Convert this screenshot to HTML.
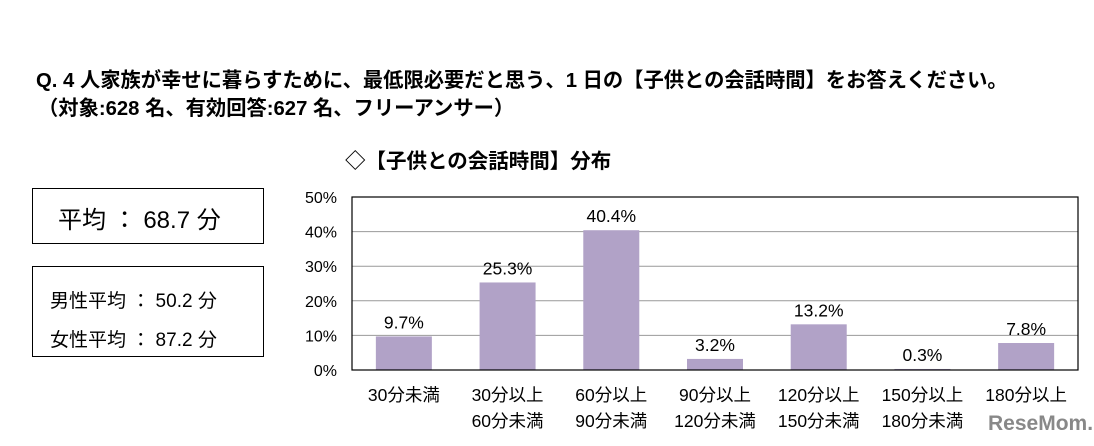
<!DOCTYPE html>
<html><head><meta charset="utf-8"><style>
body{margin:0;width:1094px;height:446px;background:#fff;font-family:"Liberation Sans","Noto Sans CJK JP",sans-serif;overflow:hidden;position:relative;color:#000}
.t{position:absolute;white-space:nowrap}
.box{position:absolute;border:1.5px solid #000;box-sizing:border-box}
</style></head><body>
<div class="t" style="left:36px;top:63px;font-size:20.3px;font-weight:bold">Q. 4 人家族が幸せに暮らすために、最低限必要だと思う、1 日の【子供との会話時間】をお答えください。</div>
<div class="t" style="left:38px;top:91px;font-size:20.3px;font-weight:bold">（対象:628 名、有効回答:627 名、フリーアンサー）</div>
<div class="t" style="left:345px;top:144px;font-size:20.5px;font-weight:bold">◇【子供との会話時間】分布</div>
<div class="box" style="left:32px;top:188px;width:232px;height:56px"></div>
<div class="t" style="left:58px;top:200px;font-size:24px">平均 ： 68.7 分</div>
<div class="box" style="left:32px;top:266px;width:232px;height:91px"></div>
<div class="t" style="left:50px;top:286px;font-size:19px">男性平均 ： 50.2 分</div>
<div class="t" style="left:50px;top:325px;font-size:19px">女性平均 ： 87.2 分</div>
<svg id="chart" width="1094" height="446" style="position:absolute;left:0;top:0"></svg>
<div class="t" style="left:988px;top:412px;font-size:21px;font-weight:bold;color:#888">ReseMom.</div>
<script>
const categories1=["30分未満","30分以上","60分以上","90分以上","120分以上","150分以上","180分以上"];
const categories2=["","60分未満","90分未満","120分未満","150分未満","180分未満",""];
const values=[9.7,25.3,40.4,3.2,13.2,0.3,7.8];
const ticks=[0,10,20,30,40,50];
const svg=document.getElementById('chart');
const NS="http://www.w3.org/2000/svg";
const L=352,R=1078,T=197,B=370,MAX=50;
const y=v=>B-(v/MAX)*(B-T);
const bw=(R-L)/categories1.length;
const x=i=>L+bw*i;
function mk(tag,attrs,txt){const e=document.createElementNS(NS,tag);for(const k in attrs)e.setAttribute(k,attrs[k]);if(txt!==undefined)e.textContent=txt;svg.appendChild(e);return e;}
ticks.forEach(t=>{
 if(t>0&&t<MAX){const g=mk('line',{x1:L,x2:R,y1:y(t),y2:y(t),stroke:'#999','stroke-width':1});
 
 }
 const l=mk('text',{x:337,y:y(t)+6,'text-anchor':'end','font-size':16,'font-family':'Liberation Sans, sans-serif'},t+'%');
 
 
});
values.forEach((v,i)=>{
 const cx=x(i)+bw/2;
 const b=mk('rect',{x:cx-28,y:y(v),width:56,height:B-y(v),fill:'#b1a2c7'});
 
 
 const vl=mk('text',{x:cx,y:y(v)-8,'text-anchor':'middle','font-size':17.5,'font-family':'Liberation Sans, sans-serif'},v.toFixed(1)+'%');
 
 
 const c1=mk('text',{x:cx,y:401,'text-anchor':'middle','font-size':17.5,'font-family':'Liberation Sans, Noto Sans CJK JP, sans-serif'},categories1[i]);
 
 
 if(categories2[i]){const c2=mk('text',{x:cx,y:427,'text-anchor':'middle','font-size':17.5,'font-family':'Liberation Sans, Noto Sans CJK JP, sans-serif'},categories2[i]);
 
 }
});
const f=mk('rect',{x:L,y:T,width:R-L,height:B-T,fill:'none',stroke:'#000','stroke-width':1.2});


</script>
</body></html>
